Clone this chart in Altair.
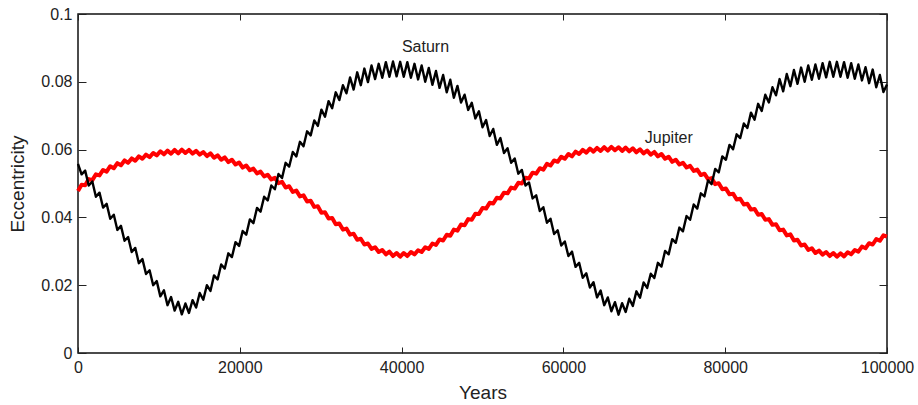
import altair as alt
import pandas as pd

# ---- data (eccentricity in units of 1e-4) ----
N_STEPS = 226          # samples every ~442 years (half the ~885-yr wiggle period)
YEAR_END = 100000

saturn_e4 = [
    558, 527, 538, 494, 506, 461, 473, 429, 440, 396,
    408, 363, 375, 331, 342, 298, 310, 265, 277, 233,
    244, 200, 212, 167, 185, 141, 165, 125, 151, 114,
    146, 118, 156, 134, 177, 157, 200, 183, 229, 217,
    261, 249, 294, 283, 327, 316, 360, 349, 394, 383,
    428, 417, 461, 450, 494, 483, 528, 516, 561, 550,
    593, 580, 623, 610, 654, 642, 686, 670, 718, 697,
    743, 722, 769, 746, 790, 766, 813, 777, 828, 790,
    839, 799, 848, 808, 853, 812, 858, 815, 860, 816,
    859, 815, 858, 812, 853, 807, 848, 800, 841, 791,
    832, 782, 820, 769, 806, 753, 788, 739, 762, 717,
    738, 692, 713, 666, 687, 640, 661, 614, 634, 590,
    604, 561, 574, 529, 540, 494, 503, 456, 465, 419,
    430, 384, 396, 351, 362, 317, 329, 286, 299, 254,
    266, 222, 235, 193, 209, 164, 184, 141, 164, 123,
    150, 113, 147, 121, 160, 139, 182, 163, 208, 192,
    234, 221, 266, 255, 301, 291, 336, 325, 370, 359,
    404, 393, 438, 426, 471, 462, 509, 498, 543, 533,
    580, 570, 614, 601, 645, 634, 677, 664, 709, 688,
    735, 714, 762, 739, 784, 760, 808, 772, 823, 787,
    835, 794, 842, 800, 848, 806, 851, 809, 855, 813,
    859, 815, 859, 815, 858, 812, 855, 809, 851, 804,
    843, 796, 836, 784, 820, 770, 792,
]

jupiter_e4 = [
    478, 496, 495, 513, 510, 527, 524, 540, 535, 551,
    545, 560, 554, 568, 561, 574, 567, 580, 573, 585,
    578, 590, 583, 595, 586, 597, 588, 599, 589, 600,
    590, 599, 588, 596, 585, 593, 581, 589, 576, 583,
    570, 577, 563, 570, 556, 562, 547, 553, 539, 544,
    530, 535, 521, 526, 512, 517, 501, 505, 488, 492,
    475, 479, 462, 465, 447, 449, 431, 433, 414, 415,
    397, 398, 380, 382, 364, 367, 349, 352, 334, 337,
    320, 323, 307, 312, 298, 304, 291, 299, 286, 295,
    284, 295, 286, 298, 291, 303, 298, 312, 307, 323,
    319, 335, 332, 349, 346, 364, 361, 379, 377, 395,
    393, 411, 410, 428, 426, 443, 441, 458, 456, 473,
    471, 488, 485, 502, 500, 517, 515, 532, 529, 545,
    541, 558, 553, 568, 564, 579, 573, 587, 580, 594,
    587, 599, 591, 603, 594, 605, 596, 607, 597, 608,
    598, 607, 596, 606, 595, 604, 592, 601, 589, 597,
    585, 593, 580, 587, 573, 579, 564, 570, 556, 561,
    547, 552, 537, 541, 525, 529, 513, 516, 498, 501,
    483, 485, 468, 470, 453, 455, 438, 440, 423, 425,
    408, 410, 393, 395, 378, 380, 362, 364, 347, 350,
    332, 334, 317, 320, 304, 309, 295, 302, 290, 298,
    286, 295, 284, 294, 285, 297, 291, 304, 299, 314,
    309, 324, 320, 336, 331, 347, 343,
]

label_text = ["Saturn", "Jupiter"]
label_year = [42950, 73030]
label_e = [0.0888, 0.0620]

x_ticks = [0, 20000, 40000, 60000, 80000, 100000]
y_ticks = [0, 0.02, 0.04, 0.06, 0.08, 0.1]

# ---- tables ----
years = [YEAR_END * i / N_STEPS for i in range(N_STEPS + 1)]
sat_df = pd.DataFrame({"year": years, "e": [v / 1e4 for v in saturn_e4]})
jup_df = pd.DataFrame({"year": years, "e": [v / 1e4 for v in jupiter_e4]})
lab_df = pd.DataFrame({"year": label_year, "e": label_e, "label": label_text})

W, H = 809, 339
FONT = "Liberation Sans"

x_enc = alt.X(
    "year:Q",
    scale=alt.Scale(domain=[0, YEAR_END], nice=False, zero=False),
    axis=alt.Axis(values=x_ticks, format="d", title="Years",
                  gridDash=[6, H - 12, 6, 2000], titlePadding=8),
)
y_enc = alt.Y(
    "e:Q",
    scale=alt.Scale(domain=[0, 0.1], nice=False),
    axis=alt.Axis(values=y_ticks, format="~g", title="Eccentricity",
                  gridDash=[8, W - 16, 8, 2000], titlePadding=13),
)

jup = alt.Chart(jup_df).mark_line(
    color="#ff0000", strokeWidth=4, strokeJoin="round"
).encode(x=x_enc, y=y_enc)

sat = alt.Chart(sat_df).mark_line(
    color="#000000", strokeWidth=2.4, strokeJoin="round"
).encode(x=x_enc, y=y_enc)

txt = alt.Chart(lab_df).mark_text(
    font=FONT, fontSize=16, align="center", baseline="alphabetic", color="#222222"
).encode(x="year:Q", y="e:Q", text="label:N")

chart = (
    alt.layer(jup, sat, txt)
    .properties(
        width=W,
        height=H,
        autosize=alt.AutoSizeParams(type="none"),
        padding={"left": 78, "top": 14, "right": 31, "bottom": 52},
        background="white",
    )
    .configure_view(stroke="#111111", strokeWidth=1.5)
    .configure_axis(
        labelFont=FONT,
        labelFontSize=16,
        labelColor="#222222",
        labelPadding=6,
        labelFlush=False,
        labelOverlap=False,
        titleFont=FONT,
        titleFontSize=19,
        titleFontWeight="normal",
        titleColor="#222222",
        domain=False,
        ticks=False,
        grid=True,
        gridColor="#222222",
        gridOpacity=1,
        gridWidth=1,
    )
)

chart.save("out.html", embed_options={"renderer": "svg", "actions": False})
